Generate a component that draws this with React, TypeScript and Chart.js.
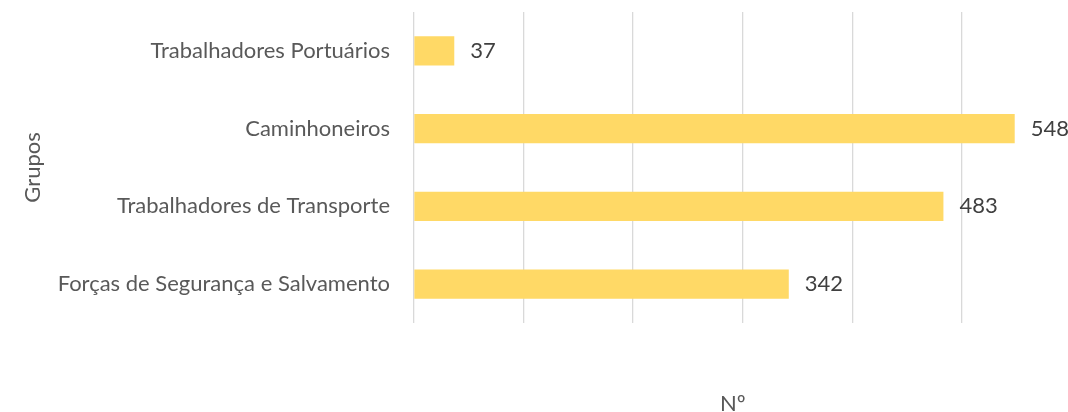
import React, { useEffect, useRef } from 'react';
import { Chart, registerables } from 'chart.js';

Chart.register(...registerables);

const categories = [
  'Trabalhadores Portuários',
  'Caminhoneiros',
  'Trabalhadores de Transporte',
  'Forças de Segurança e Salvamento',
];
const values = [37, 548, 483, 342];
const gridTicks = [0, 100, 200, 300, 400, 500];
const yTitle = 'Grupos';
const xTitle = 'Nº';

const FONT = 'Lato';
const FONT_SIZE = 22;

const dataLabels = {
  id: 'dataLabels',
  afterDatasetsDraw(chart: any) {
    const ctx = chart.ctx;
    const meta = chart.getDatasetMeta(0);
    ctx.save();
    ctx.font = `${FONT_SIZE}px ${FONT}`;
    ctx.fillStyle = '#404040';
    ctx.textAlign = 'left';
    ctx.textBaseline = 'middle';
    meta.data.forEach((bar: any, i: number) => {
      ctx.fillText(String(values[i]), bar.x + 16, bar.y);
    });
    ctx.restore();
  },
};

export default function App() {
  const ref = useRef<HTMLCanvasElement | null>(null);
  useEffect(() => {
    if (!ref.current) return;
    const chart = new Chart(ref.current, {
      type: 'bar',
      data: {
        labels: categories,
        datasets: [
          {
            data: values,
            backgroundColor: '#FFD966',
            borderWidth: 0,
            categoryPercentage: 1,
            barPercentage: 0.374,
          },
        ],
      },
      options: {
        indexAxis: 'y',
        animation: false,
        responsive: true,
        maintainAspectRatio: false,
        layout: { padding: { top: 12, right: 16, left: 0, bottom: 0 } },
        plugins: { legend: { display: false }, tooltip: { enabled: false } },
        scales: {
          x: {
            min: 0,
            max: 582,
            afterBuildTicks: (scale: any) => {
              scale.ticks = gridTicks.map((v) => ({ value: v }));
            },
            afterFit: (scale: any) => {
              scale.height = 89;
              scale.paddingLeft = 0;
              scale.paddingRight = 0;
            },
            ticks: { display: false },
            grid: { color: '#d9d9d9', lineWidth: 1.3, drawTicks: false },
            border: { display: false },
            title: {
              display: true,
              text: xTitle,
              color: '#595959',
              font: { family: FONT, size: FONT_SIZE, lineHeight: 1 },
              padding: { top: 0, bottom: -3 },
            },
          },
          y: {
            afterFit: (scale: any) => {
              scale.width = 413.7;
              scale.paddingTop = 0;
              scale.paddingBottom = 0;
            },
            ticks: {
              color: '#595959',
              font: { family: FONT, size: FONT_SIZE },
              padding: 23.7,
            },
            grid: { display: false, drawTicks: false },
            border: { display: false },
            title: {
              display: true,
              text: yTitle,
              color: '#595959',
              font: { family: FONT, size: FONT_SIZE, lineHeight: 1 },
              padding: { top: 22, bottom: 0 },
            },
          },
        },
      },
      plugins: [dataLabels],
    });
    return () => chart.destroy();
  }, []);
  return (
    <div style={{ position: 'absolute', left: 0, top: 0, width: 1068, height: 412 }}>
      <canvas ref={ref} />
    </div>
  );
}
